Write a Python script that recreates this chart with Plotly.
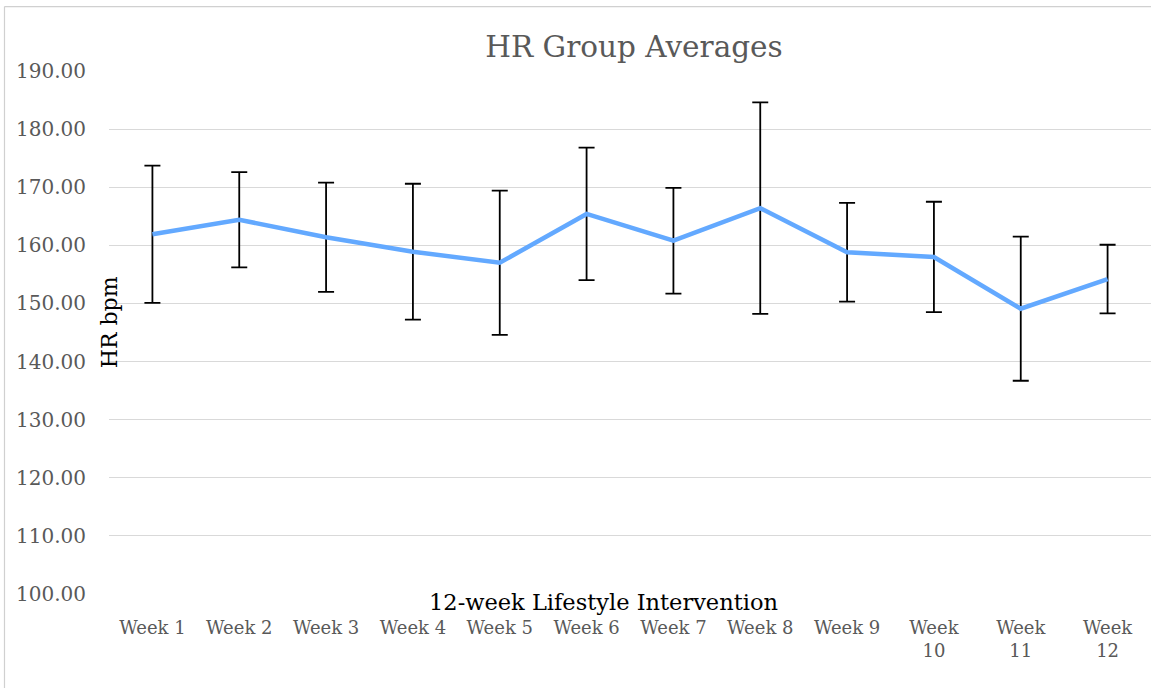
import plotly.graph_objects as go

weeks = ["Week 1", "Week 2", "Week 3", "Week 4", "Week 5", "Week 6",
         "Week 7", "Week 8", "Week 9", "Week<br>10", "Week<br>11", "Week<br>12"]
hr_means = [161.9, 164.4, 161.4, 158.9, 157.0, 165.4, 160.8, 166.4, 158.8, 158.0, 149.1, 154.2]
hr_errors = [11.8, 8.2, 9.4, 11.7, 12.4, 11.4, 9.1, 18.2, 8.5, 9.5, 12.4, 5.9]
y_ticks = [100, 110, 120, 130, 140, 150, 160, 170, 180, 190]

W, H = 1151, 688
L, R, T, B = 109, 0, 71, 93.5
pw, ph = W - L - R, H - T - B

def px_x(px):
    return (px - L) / pw

def px_y(py):
    return (H - B - py) / ph

FONT = "DejaVu Serif"

fig = go.Figure()
fig.add_trace(go.Scatter(
    x=list(range(len(weeks))), y=hr_means, mode="lines",
    line=dict(color="#63A9FF", width=4.5),
    error_y=dict(type="data", array=hr_errors, visible=True,
                 color="black", thickness=1.8, width=8),
    showlegend=False, hoverinfo="y",
))

fig.update_layout(
    width=W, height=H, autosize=False,
    margin=dict(l=L, r=R, t=T, b=B),
    paper_bgcolor="white", plot_bgcolor="white",
    title=dict(text="HR Group Averages", font=dict(family=FONT, size=29.5, color="#595959"),
               x=634 / W, xref="container", xanchor="center",
               y=1 - 47 / H, yref="container", yanchor="middle"),
    xaxis=dict(tickmode="array", tickvals=list(range(len(weeks))), ticktext=weeks,
               range=[-0.5, len(weeks) - 0.5], showgrid=False, zeroline=False,
               showline=False, ticks="", ticklabelstandoff=21,
               tickfont=dict(family=FONT, size=18, color="#595959")),
    yaxis=dict(range=[100, 190], tickmode="array", tickvals=y_ticks,
               ticktext=[f"{v:.2f}" for v in y_ticks],
               showgrid=True, gridcolor="#D9D9D9", gridwidth=1, zeroline=False,
               showline=False, ticks="", ticklabelstandoff=22,
               tickfont=dict(family=FONT, size=20, color="#595959")),
    annotations=[
        dict(text="12-week Lifestyle Intervention", xref="paper", yref="paper",
             x=px_x(603.5), y=px_y(603), xanchor="center", yanchor="middle",
             showarrow=False, font=dict(family=FONT, size=22.5, color="black")),
        dict(text="HR bpm", xref="paper", yref="paper", textangle=-90,
             x=px_x(109.5), y=px_y(323), xanchor="center", yanchor="middle",
             showarrow=False, font=dict(family=FONT, size=22, color="black")),
    ],
    shapes=[
        dict(type="line", xref="paper", yref="paper", x0=px_x(4.5), x1=px_x(4.5),
             y0=px_y(6.5), y1=px_y(700), line=dict(color="#D0D0D0", width=1.2)),
        dict(type="line", xref="paper", yref="paper", x0=px_x(4.5), x1=px_x(1160),
             y0=px_y(6.5), y1=px_y(6.5), line=dict(color="#D0D0D0", width=1.2)),
    ],
)

fig.write_html("out.html", config={"displayModeBar": False},
               post_script="document.body.style.margin='0px';")
